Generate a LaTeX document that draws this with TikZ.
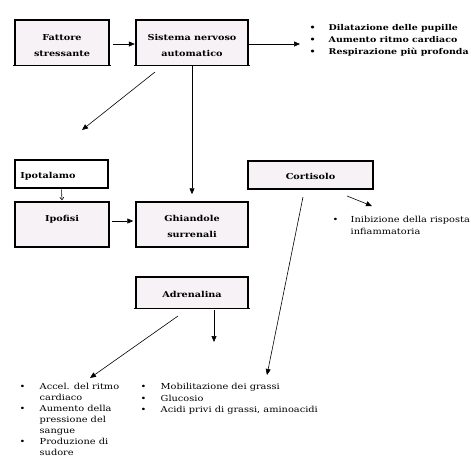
\documentclass[tikz,border=0pt]{standalone}
\usepackage{fontspec}
\setmainfont{DejaVu Serif}[FakeStretch=1.18]
\usetikzlibrary{arrows.meta}
\definecolor{boxfill}{RGB}{246,242,245}
\begin{document}
\begin{tikzpicture}[x=1pt,y=-1pt,
  full/.style={fill=boxfill, draw=black, line width=1.5pt, inner sep=0pt},
  open/.style={fill=boxfill, draw=none, inner sep=0pt},
  btext/.style={font=\bfseries\fontsize{8.2}{16}\selectfont, align=center, inner sep=0pt},
  ltext/.style={inner sep=0pt, anchor=north west},
  arr/.style={line width=0.6pt, -{Triangle[length=6pt,width=5pt]}},
  sarr/.style={line width=0.6pt, -{Straight Barb[length=2.5pt,width=4pt]}}]
\useasboundingbox (0,0) rectangle (471,475);
\fill[white] (0,0) rectangle (471,475);

% boxes
\node[open, minimum width=94, minimum height=45] (fat) at (62,42.5) {};
\node[open, minimum width=112, minimum height=45] (sis) at (192,42.5) {};
\node[open, minimum width=112, minimum height=31] (adr) at (192,292.5) {};
\node[full, fill=white, minimum width=93, minimum height=28] (ipot) at (61.5,174) {};
\node[full, minimum width=94, minimum height=45] (ipof) at (62,224.5) {};
\node[full, minimum width=112, minimum height=45] (ghi) at (192,224.5) {};
\node[full, minimum width=125, minimum height=28] (cort) at (310.5,175) {};

\foreach \n in {fat,sis,adr}{
  \draw[line width=1.5pt] (\n.south west) -- (\n.north west) -- (\n.north east) -- (\n.south east);
  \draw[line width=0.6pt] ([xshift=-2pt]\n.south west) -- ([xshift=2pt]\n.south east);
}

% box texts
\node[btext, anchor=north] (fatT) at ([yshift=-14.3pt]fat.north) {Fattore\\stressante};
\node[btext, anchor=north] (sisT) at ([yshift=-14.3pt]sis.north) {Sistema nervoso\\automatico};
\node[btext, anchor=north] (ipofT) at ([yshift=-14.3pt]ipof.north) {Ipofisi};
\node[btext, anchor=north] (ghiT) at ([yshift=-14.3pt]ghi.north) {Ghiandole\\surrenali};
\node[btext, anchor=west] (ipotT) at ([xshift=6pt,yshift=-2pt]ipot.west) {Ipotalamo};
\node[btext] (cortT) at ([yshift=-1.5pt]cort.center) {Cortisolo};
\node[btext] (adrT) at ([yshift=-1.5pt]adr.center) {Adrenalina};

% lists
\node[ltext, font=\bfseries\fontsize{8}{12}\selectfont] (tr) at (309.5,21.6)
  {\begin{tabular}{@{}p{19pt}@{}l@{}}
   \textbullet & Dilatazione delle pupille\\
   \textbullet & Aumento ritmo cardiaco\\
   \textbullet & Respirazione più profonda
   \end{tabular}};
\node[ltext, font=\fontsize{8.3}{12}\selectfont] (inib) at (332.5,213.6)
  {\begin{tabular}{@{}p{18pt}@{}l@{}}
   \textbullet & Inibizione della risposta\\
   & infiammatoria
   \end{tabular}};
\node[ltext, font=\fontsize{8.3}{11.5}\selectfont] (mid) at (140.5,381.5)
  {\begin{tabular}{@{}p{20pt}@{}l@{}}
   \textbullet & Mobilitazione dei grassi\\
   \textbullet & Glucosio\\
   \textbullet & Acidi privi di grassi, aminoacidi
   \end{tabular}};
\node[ltext, font=\fontsize{8.3}{11}\selectfont] (left) at (19.5,381.8)
  {\begin{tabular}{@{}p{20pt}@{}l@{}}
   \textbullet & Accel. del ritmo\\
   & cardiaco\\
   \textbullet & Aumento della\\
   & pressione del\\
   & sangue\\
   \textbullet & Produzione di\\
   & sudore
   \end{tabular}};

% free ends
\coordinate (trIn) at (300,44);
\coordinate (sisD) at (155,72);
\coordinate (hypD) at (82,130);
\coordinate (cortA) at (347,196);
\coordinate (inibIn) at (372,206);
\coordinate (cortB) at (303,197);
\coordinate (midIn) at (267,375);
\coordinate (adrA) at (214,310);
\coordinate (adrAend) at (214,342);
\coordinate (adrB) at (178,316);
\coordinate (leftIn) at (90,378);

% connectors
\draw[arr, shorten <=4pt, shorten >=1pt] ([yshift=-1.5pt]fat.east) -- ([yshift=-1.5pt]sis.west);
\draw[arr, shorten <=1pt] (sis.east |- trIn) -- (trIn);
\draw[arr] (sisD) -- (hypD);
\draw[arr, shorten <=0.5pt, shorten >=7pt] (sis.south) -- (ghi.north);
\draw[sarr, shorten <=0.8pt, shorten >=1pt] (ipot.south) -- (ipof.north);
\draw[arr, shorten <=2pt, shorten >=2pt] ([yshift=3.5pt]ipof.east) -- ([yshift=3.5pt]ghi.west);
\draw[arr] (cortA) -- (inibIn);
\draw[arr] (cortB) -- (midIn);
\draw[arr] (adrA) -- (adrAend);
\draw[arr] (adrB) -- (leftIn);
\end{tikzpicture}
\end{document}
